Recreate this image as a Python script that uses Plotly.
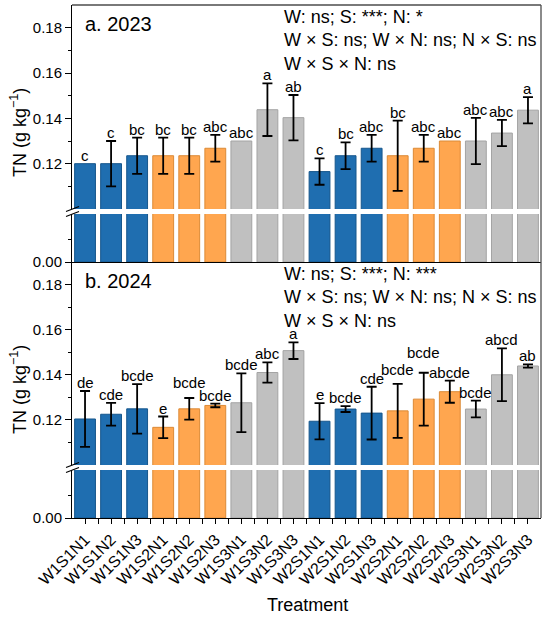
import plotly.graph_objects as go

# Tratamientos y datos
treatments = ['W1S1N1', 'W1S1N2', 'W1S1N3', 'W1S2N1', 'W1S2N2', 'W1S2N3',
              'W1S3N1', 'W1S3N2', 'W1S3N3', 'W2S1N1', 'W2S1N2', 'W2S1N3',
              'W2S2N1', 'W2S2N2', 'W2S2N3', 'W2S3N1', 'W2S3N2', 'W2S3N3']

tn_2023 = [0.1200, 0.1200, 0.1235, 0.1235, 0.1235, 0.1268, 0.1300, 0.1438, 0.1403,
           0.1165, 0.1235, 0.1268, 0.1235, 0.1268, 0.1300, 0.1300, 0.1335, 0.1436]
err_2023 = [0.0, 0.0100, 0.0080, 0.0080, 0.0080, 0.0059, 0.0, 0.0116, 0.0100,
            0.0058, 0.0059, 0.0059, 0.0155, 0.0059, 0.0, 0.0102, 0.0058, 0.0058]
letters_2023 = ['c', 'c', 'bc', 'bc', 'bc', 'abc', 'abc', 'a', 'ab',
                'c', 'bc', 'abc', 'bc', 'abc', 'abc', 'abc', 'abc', 'a']

tn_2024 = [0.1204, 0.1225, 0.1249, 0.1167, 0.1249, 0.1264, 0.1276, 0.1410, 0.1507,
           0.1194, 0.1248, 0.1230, 0.1240, 0.1292, 0.1325, 0.1248, 0.1400, 0.1439]
err_2024 = [0.0124, 0.0050, 0.0110, 0.0048, 0.0048, 0.0008, 0.0130, 0.0045, 0.0037,
            0.0080, 0.0013, 0.0117, 0.0120, 0.0117, 0.0049, 0.0037, 0.0117, 0.0007]
letters_2024 = ['de', 'cde', 'bcde', 'e', 'bcde', 'bcde', 'bcde', 'abc', 'a',
                'e', 'bcde', 'cde', 'bcde', 'bcde', 'abcde', 'bcde', 'abcd', 'ab']

stats_2023 = ['W: ns; S: ***; N: *', 'W × S: ns; W × N: ns; N × S: ns', 'W × S × N: ns']
stats_2024 = ['W: ns; S: ***; N: ***', 'W × S: ns; W × N: ns; N × S: ns', 'W × S × N: ns']

FONT = 'Liberation Sans, Arial, sans-serif'
S_FILL = {'S1': '#1f6eb0', 'S2': '#ffa64f', 'S3': '#c0c0c0'}
S_EDGE = {'S1': '#17578c', 'S2': '#dc8a36', 'S3': '#a3a3a3'}

fills = [S_FILL[t[2:4]] for t in treatments]
edges = [S_EDGE[t[2:4]] for t in treatments]
xs = list(range(len(treatments)))

# geometria en pixeles (area de trazado 72..541 x 5..518)
W, H = 550, 623
L, R, T, B = 72, 9, 5, 105
PH = H - T - B


def px_x(p):
    return (p - L) / (W - L - R)


def px_y(p):
    return (H - B - p) / PH


# segmento inferior 48 px, corte 5 px, segmento superior ~203 px
dom_b_low = [0, 48 / PH]
dom_b_up = [53 / PH, 256 / PH]
dom_a_low = [256 / PH, 304 / PH]
dom_a_up = [309 / PH, 1]

fig = go.Figure()

panels = [
    (tn_2023, err_2023, letters_2023, 'x2', 'y3', 'y4', 'a. 2023', stats_2023, 0),
    (tn_2024, err_2024, letters_2024, 'x', 'y', 'y2', 'b. 2024', stats_2024, 257),
]

extra_shift = {('b. 2024', 4): 7, ('b. 2024', 12): 6, ('b. 2024', 13): 12}

annotations = []
for vals, errs, lets, xr, ylow, yup, label, stats, off in panels:
    for yref in (ylow, yup):
        fig.add_trace(go.Bar(x=xs, y=vals, width=0.8, xaxis=xr, yaxis=yref,
                             marker=dict(color=fills, line=dict(color=edges, width=1)),
                             showlegend=False))
    # barras de error (solo las que tienen error)
    ex = [x for x, e in zip(xs, errs) if e > 0]
    ey = [v for v, e in zip(vals, errs) if e > 0]
    ee = [e for e in errs if e > 0]
    fig.add_trace(go.Scatter(x=ex, y=ey, xaxis=xr, yaxis=yup, mode='markers',
                             marker=dict(size=1, opacity=0),
                             error_y=dict(type='data', array=ee, color='black',
                                          thickness=1.8, width=5),
                             showlegend=False))
    for i, (v, e, t) in enumerate(zip(vals, errs, lets)):
        annotations.append(dict(x=i, y=v + e, xref=xr, yref=yup, text=t,
                                showarrow=False, yanchor='bottom',
                                yshift=-2 + extra_shift.get((label, i), 0),
                                font=dict(size=15, color='black', family=FONT)))
    annotations.append(dict(x=px_x(83), y=px_y(24 + off), xref='paper', yref='paper',
                            text=label, showarrow=False, xanchor='left', yanchor='middle',
                            font=dict(size=20, color='black', family=FONT)))
    annotations.append(dict(x=px_x(282), y=px_y(40 + off), xref='paper', yref='paper',
                            text='<br>'.join(stats), showarrow=False, xanchor='left',
                            yanchor='middle', align='left',
                            font=dict(size=18, color='black', family=FONT)))
    annotations.append(dict(x=px_x(18), y=px_y(133 + off), xref='paper', yref='paper',
                            text='TN (g kg<sup>−1</sup>)', textangle=-90, showarrow=False,
                            xanchor='center', yanchor='middle',
                            font=dict(size=18, color='black', family=FONT)))

annotations.append(dict(x=px_x(307), y=px_y(605), xref='paper', yref='paper',
                        text='Treatment', showarrow=False, xanchor='center',
                        yanchor='middle', font=dict(size=18, color='black', family=FONT)))

up_ticks = [0.12, 0.14, 0.16, 0.18]
up_minor = [0.11, 0.13, 0.15, 0.17]

y_up = dict(range=[0.10, 0.19], tickvals=up_ticks, ticktext=['%.2f' % t for t in up_ticks],
            ticks='outside', ticklen=6, tickwidth=1, tickcolor='black',
            minor=dict(tickvals=up_minor, ticks='outside', ticklen=3, tickcolor='black'),
            showline=True, linecolor='black', linewidth=1, showgrid=False, zeroline=False,
            tickfont=dict(size=15, color='black', family=FONT))
y_low = dict(range=[0, 0.0213], tickvals=[0], ticktext=['0.00'],
             ticks='outside', ticklen=6, tickwidth=1, tickcolor='black',
             minor=dict(tickvals=[0.01], ticks='outside', ticklen=3, tickcolor='black'),
             showline=True, linecolor='black', linewidth=1, showgrid=False, zeroline=False,
             tickfont=dict(size=15, color='black', family=FONT))

x_common = dict(range=[-0.5, 17.5], domain=[0, 1], showline=True, linecolor='black',
                linewidth=1, showgrid=False, zeroline=False)

fig.update_layout(
    width=W, height=H,
    margin=dict(l=L, r=R, t=T, b=B),
    plot_bgcolor='white', paper_bgcolor='white',
    bargap=0.2,
    font=dict(family=FONT, color='black'),
    xaxis=dict(**x_common, anchor='y', tickvals=xs, ticktext=treatments, tickangle=-45,
               ticks='outside', ticklen=5, tickcolor='black',
               minor=dict(tickvals=[x + 0.5 for x in xs[:-1]], ticks='outside',
                          ticklen=5, tickcolor='black'),
               tickfont=dict(size=16, color='black', family=FONT)),
    xaxis2=dict(**x_common, anchor='y3', showticklabels=False, ticks=''),
    yaxis=dict(**y_low, domain=dom_b_low, anchor='x'),
    yaxis2=dict(**y_up, domain=dom_b_up, anchor='x'),
    yaxis3=dict(**y_low, domain=dom_a_low, anchor='x2'),
    yaxis4=dict(**y_up, domain=dom_a_up, anchor='x2'),
    annotations=annotations,
)

# marco superior y derecho
frame = dict(color='#4d4d4d', width=1.3)
fig.add_shape(type='line', xref='paper', yref='paper', x0=0, x1=1, y0=1, y1=1, line=frame)
fig.add_shape(type='line', xref='paper', yref='paper', x0=1, x1=1, y0=0, y1=1, line=frame)

# marcas de corte del eje
for gap_lo, gap_hi in ((dom_a_low[1], dom_a_up[0]), (dom_b_low[1], dom_b_up[0])):
    for yc in (gap_lo, gap_hi):
        fig.add_shape(type='line', xref='paper', yref='paper',
                      x0=px_x(66), x1=px_x(79), y0=yc - 2.5 / PH, y1=yc + 2.5 / PH,
                      line=dict(color='black', width=1.2))

fig.write_html("out.html", config={'displayModeBar': False},
               post_script="document.body.style.margin='0';")
